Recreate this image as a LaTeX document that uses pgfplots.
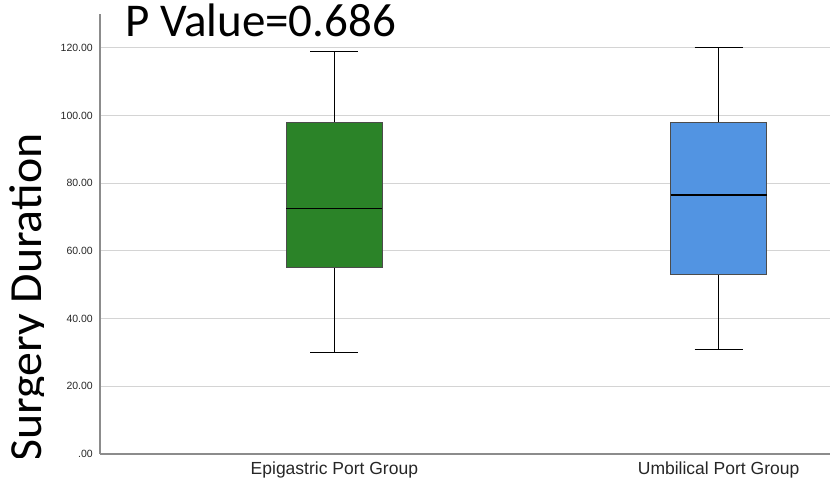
\documentclass[border=0pt]{standalone}
\usepackage{pgfplots}
\pgfplotsset{compat=1.18}
\usepgfplotslibrary{statistics}
\usepackage{fontspec}
\setmainfont{Liberation Sans}
\newfontfamily\calibri{Carlito}
\definecolor{boxgreen}{RGB}{43,131,40}
\definecolor{boxblue}{RGB}{82,148,226}
\definecolor{axgray}{RGB}{140,140,140}
\definecolor{gridgray}{RGB}{212,212,212}
\begin{document}
\begin{tikzpicture}[x=1pt,y=1pt]
\useasboundingbox (0,0) rectangle (830,484);
\begin{axis}[
  at={(100pt,30pt)}, anchor=south west,
  scale only axis, width=730pt, height=440pt,
  xmin=0.39, xmax=2.29, ymin=0, ymax=130,
  axis x line=bottom, axis y line=left,
  axis line style={-, draw=axgray, line width=1.3pt},
  ytick={0,20,...,120},
  yticklabels={.00,20.00,40.00,60.00,80.00,100.00,120.00},
  xtick={1,2},
  xticklabels={Epigastric Port Group, Umbilical Port Group},
  major tick length=0pt,
  ymajorgrids, grid style={gridgray, line width=1pt},
  yticklabel style={font=\fontsize{10.5}{12}\selectfont, text=black!85, inner sep=0pt, xshift=-7pt},
  xticklabel style={font=\fontsize{17.5}{20}\selectfont, text=black!85, inner sep=0pt, yshift=-8pt},
  boxplot/draw direction=y,
  clip=false,
]
\addplot[boxplot prepared={draw position=1, lower whisker=30, lower quartile=55,
    median=72.5, upper quartile=98, upper whisker=119,
    box extend=0.25, whisker extend=0.125},
  boxplot/every box/.style={draw=black!70, fill=boxgreen, line width=0.8pt},
  boxplot/every whisker/.style={draw=black, line width=1pt},
  boxplot/every median/.style={draw=black, line width=1.5pt},
  mark=none] coordinates {};
\addplot[boxplot prepared={draw position=2, lower whisker=31, lower quartile=53,
    median=76.5, upper quartile=98, upper whisker=120,
    box extend=0.25, whisker extend=0.125},
  boxplot/every box/.style={draw=black!70, fill=boxblue, line width=0.8pt},
  boxplot/every whisker/.style={draw=black, line width=1pt},
  boxplot/every median/.style={draw=black, line width=2pt},
  mark=none] coordinates {};
\end{axis}
\node[anchor=base west, inner sep=0pt, font=\calibri\fontsize{47}{50}\selectfont] at (125,447) {P Value=0.686};
\begin{scope}
  \clip (0,26) rectangle (43,384);
  \node[rotate=90, anchor=base west, inner sep=0pt, font=\calibri\fontsize{46}{50}\selectfont] at (41,22) {\scalebox{1.04}[1]{Surgery Duration}};
\end{scope}
\end{tikzpicture}
\end{document}
